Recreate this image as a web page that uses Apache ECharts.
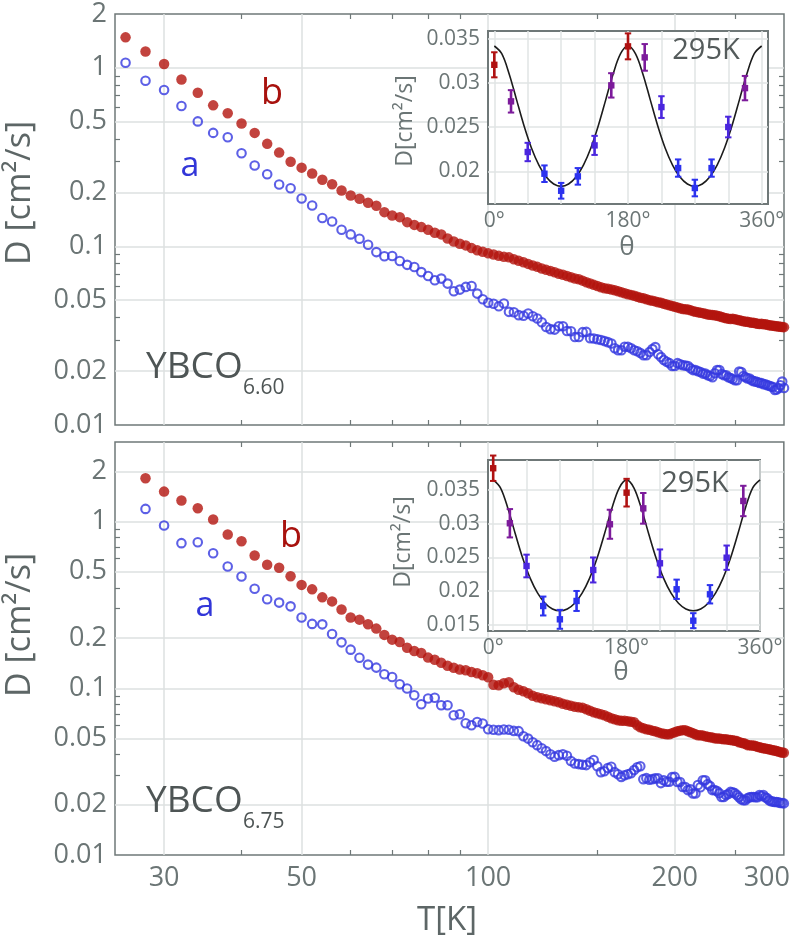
<!DOCTYPE html>
<html><head><meta charset="utf-8">
<script src="https://cdn.jsdelivr.net/npm/echarts@6/dist/echarts.min.js"></script>
<style>html,body{margin:0;padding:0;background:#fff}#c{width:793px;height:946px}</style>
</head><body><div id="c"></div>
<script>
// ---------- DATA ----------
const T_TOP = [26,28,30,32,34,36,38,40,42,44,46,48,50,52,54,56,58,60,62,64,66,68,70,72,74,76,78,80,82,84,86,88,90,92,94,96,98,
  100,102,104,106,108,110,112,114,116,118,120,122,124,126,128,130,132,134,136,138,140,142,144,146,148,150,152,154,156,158,
  160,162,164,166,168,170,172,174,176,178,180,182,184,186,188,190,192,194,196,198,200,202,204,206,208,210,212,214,216,218,
  220,222,224,226,228,230,232,234,236,238,240,242,244,246,248,250,252,254,256,258,260,262,264,266,268,270,272,274,276,278,
  280,282,284,286,288,290,292,294,296,298,300];
const D_TOP_B = [1.48,1.233,1.049,0.860,0.725,0.616,0.556,0.488,0.432,0.375,0.335,0.298,0.276,0.256,0.236,0.223,0.2055,0.1927,0.1848,0.1757,
  0.1688,0.1555,0.1490,0.1458,0.1367,0.1319,0.1282,0.1240,0.1193,0.1167,0.1108,0.1066,0.1035,0.1013,0.0978,0.0950,0.0932,
  0.0914,0.0900,0.0885,0.0874,0.0868,0.0848,0.0830,0.0815,0.0798,0.0782,
  0.0768,0.0752,0.0739,0.0728,0.0716,0.0703,0.0693,0.0683,0.0671,0.0661,
  0.0654,0.0643,0.0630,0.0620,0.0609,0.0600,0.0590,0.0583,0.0579,0.0574,
  0.0568,0.0561,0.0553,0.0546,0.0539,0.0535,0.0529,0.0522,0.0516,0.0512,
  0.0506,0.0500,0.0496,0.0492,0.0487,0.0483,0.0477,0.0472,0.0468,0.0464,
  0.0459,0.0455,0.0450,0.0446,0.0445,0.0443,0.0439,0.0434,0.0431,0.0428,
  0.0425,0.0423,0.0420,0.0416,0.0414,0.0413,0.0412,0.0409,0.0406,0.0402,
  0.0399,0.0396,0.0394,0.0392,0.0394,0.0391,0.0389,0.0386,0.0384,0.0381,
  0.0379,0.0378,0.0376,0.0374,0.0374,0.0371,0.0369,0.0368,0.0369,0.0366,
  0.0367,0.0364,0.0362,0.0361,0.0360,0.0358,0.0357,0.0356,0.0355,0.0354,0.0353];
const D_TOP_A = [1.067,0.846,0.751,0.611,0.501,0.432,0.408,0.332,0.2835,0.2534,0.222,0.2117,0.1855,0.1695,0.1443,0.1379,0.1240,0.1167,0.1104,0.1022,
  0.0929,0.0880,0.0883,0.0828,0.0788,0.0766,0.0718,0.0683,0.0646,0.0660,0.0619,0.0561,0.0573,0.0593,0.0600,0.0544,0.0506,
  0.0484,0.0477,0.0462,0.0479,0.0430,0.0428,0.0412,0.0409,0.0421,0.0406,
  0.0395,0.0376,0.0354,0.0344,0.0342,0.0357,0.0357,0.0336,0.0335,0.0311,
  0.0311,0.0331,0.0332,0.0306,0.0305,0.0302,0.0299,0.0295,0.0291,0.0286,
  0.0269,0.0262,0.0262,0.0274,0.0274,0.0269,0.0262,0.0259,0.0253,0.0246,
  0.0246,0.0256,0.0266,0.0273,0.0249,0.0240,0.0231,0.0226,0.0222,0.0214,
  0.0214,0.0222,0.0219,0.0216,0.0215,0.0214,0.0208,0.0203,0.0203,0.0200,
  0.0198,0.0194,0.0194,0.0190,0.0188,0.0185,0.0195,0.0203,0.0203,0.0193,
  0.0190,0.0190,0.0185,0.0183,0.0181,0.0178,0.0178,0.0199,0.0198,0.0188,
  0.0185,0.0182,0.0182,0.0178,0.0176,0.0175,0.0174,0.0172,0.0172,0.0169,
  0.0169,0.0167,0.0166,0.0164,0.0163,0.0157,0.0158,0.0161,0.0167,0.0175,0.0161];

const T_BOT = [28,30,32,34,36,38,40,42,44,46,48,50,52,54,56,58,60,62,64,66,68,70,72,74,76,78,80,82,84,86,88,90,92,94,96,98,
  100,102,104,106,108,110,112,114,116,118,120,122,124,126,128,130,132,134,136,138,140,142,144,146,148,150,152,154,156,158,
  160,162,164,166,168,170,172,174,176,178,180,182,184,186,188,190,192,194,196,198,200,202,204,206,208,210,212,214,216,218,
  220,222,224,226,228,230,232,234,236,238,240,242,244,246,248,250,252,254,256,258,260,262,264,266,268,270,272,274,276,278,
  280,282,284,286,288,290,292,294,296,298,300];
const D_BOT_B = [1.817,1.512,1.336,1.201,1.028,0.836,0.762,0.626,0.551,0.528,0.470,0.417,0.392,0.351,0.332,0.297,0.266,0.258,0.242,0.228,
  0.209,0.1957,0.1894,0.1752,0.1673,0.1627,0.1527,0.1482,0.1422,0.1364,0.1327,0.1294,0.1282,0.1252,0.1230,0.1196,
  0.1164,0.1050,0.1042,0.1071,0.1086,0.1014,0.0980,0.0960,0.0934,0.0902,
  0.0884,0.0871,0.0859,0.0847,0.0836,0.0825,0.0808,0.0797,0.0786,0.0775,
  0.0769,0.0764,0.0749,0.0733,0.0718,0.0708,0.0699,0.0689,0.0675,0.0661,
  0.0652,0.0643,0.0639,0.0639,0.0635,0.0630,0.0626,0.0600,0.0584,0.0576,
  0.0568,0.0564,0.0557,0.0553,0.0545,0.0538,0.0534,0.0530,0.0530,0.0538,
  0.0545,0.0553,0.0557,0.0561,0.0561,0.0553,0.0545,0.0538,0.0530,0.0523,
  0.0523,0.0520,0.0516,0.0512,0.0509,0.0506,0.0502,0.0500,0.0499,0.0497,
  0.0495,0.0494,0.0492,0.0490,0.0488,0.0485,0.0482,0.0475,0.0472,0.0468,
  0.0465,0.0456,0.0456,0.0454,0.0453,0.0450,0.0446,0.0443,0.0440,0.0437,
  0.0435,0.0433,0.0431,0.0428,0.0425,0.0423,0.0420,0.0417,0.0414,0.0412,0.0410];
const D_BOT_A = [1.191,0.946,0.742,0.752,0.646,0.538,0.468,0.395,0.342,0.3265,0.310,0.266,0.2433,0.2417,0.2114,0.1886,0.1705,0.1523,0.1387,0.1330,
  0.1213,0.1169,0.1057,0.0996,0.0908,0.0802,0.0868,0.0877,0.0791,0.0791,0.0689,0.0699,0.0617,0.0600,0.0628,0.0615,
  0.0568,0.0564,0.0561,0.0566,0.0564,0.0555,0.0553,0.0516,0.0499,0.0475,
  0.0456,0.0437,0.0420,0.0402,0.0389,0.0397,0.0402,0.0394,0.0366,0.0354,
  0.0351,0.0348,0.0346,0.0360,0.0371,0.0341,0.0314,0.0318,0.0332,0.0338,
  0.0314,0.0305,0.0294,0.0301,0.0305,0.0309,0.0323,0.0336,0.0341,0.0285,
  0.0289,0.0283,0.0285,0.0288,0.0288,0.0270,0.0281,0.0275,0.0275,0.0293,
  0.0294,0.0274,0.0274,0.0256,0.0256,0.0245,0.0248,0.0234,0.0234,0.0263,
  0.0255,0.0281,0.0281,0.0266,0.0259,0.0245,0.0245,0.0242,0.0235,0.0223,
  0.0223,0.0229,0.0232,0.0239,0.0238,0.0235,0.0229,0.0222,0.0216,0.0213,
  0.0213,0.0219,0.0222,0.0223,0.0223,0.0222,0.0222,0.0229,0.0226,0.0229,
  0.0222,0.0219,0.0213,0.0210,0.0209,0.0208,0.0208,0.0207,0.0205,0.0205,0.0204];

// inset data (295 K, angle scans)
const THETA = [0,22.5,45,67.5,90,112.5,135,157.5,180,202.5,225,247.5,270,292.5,315,337.5];
const INS_TOP_D = [0.03207,0.02793,0.02219,0.01973,0.0178,0.01943,0.02294,0.02974,0.03416,0.03291,0.02728,0.02037,0.01811,0.02037,0.02502,0.02943];
const INS_TOP_ERR = [0.00142,0.00127,0.00104,0.00094,0.00089,0.00094,0.00108,0.00138,0.00147,0.00151,0.00123,0.00098,0.00094,0.00098,0.00117,0.00138];
const INS_BOT_D = [0.03822,0.03007,0.02374,0.01781,0.01584,0.01856,0.02315,0.02992,0.0346,0.03228,0.02414,0.02029,0.01564,0.01955,0.02497,0.03337];
const INS_BOT_ERR = [0.00188,0.0021,0.00168,0.0014,0.0014,0.00148,0.00185,0.00215,0.00205,0.00227,0.00205,0.00143,0.00111,0.00136,0.0018,0.00225];
const THETA_FIT = [0,10,20,30,40,50,60,70,80,90,100,110,120,130,140,150,160,170,180,190,200,210,220,230,240,250,260,270,280,290,300,310,320,330,340,350,360];
const FIT_TOP = [0.0342,0.03333,0.03104,0.02810,0.02517,0.02265,0.02071,0.01935,0.01856,0.0183,0.01856,0.01935,0.02071,0.02265,0.02517,0.02810,0.03104,0.03333,0.0342,
  0.03333,0.03104,0.02810,0.02517,0.02265,0.02071,0.01935,0.01856,0.0183,0.01856,0.01935,0.02071,0.02265,0.02517,0.02810,0.03104,0.03333,0.0342];
const FIT_BOT = [0.0365,0.03529,0.03222,0.02844,0.02485,0.02191,0.01972,0.01823,0.01738,0.0171,0.01738,0.01823,0.01972,0.02191,0.02485,0.02844,0.03222,0.03529,0.0365,
  0.03529,0.03222,0.02844,0.02485,0.02191,0.01972,0.01823,0.01738,0.0171,0.01738,0.01823,0.01972,0.02191,0.02485,0.02844,0.03222,0.03529,0.0365];

// tick values
const X_GRID = [30,50,100,200];
const X_LABELS = [30,50,100,200,300];
const X_MINOR = [40,60,70,80,90,150,250];
const Y_LABELS_TOP = [0.01,0.02,0.05,0.1,0.2,0.5,1,2];
const Y_GRID_TOP = [0.02,0.05,0.1,0.2,0.5,1];
const Y_LABELS_BOT = [0.01,0.02,0.05,0.1,0.2,0.5,1,2];
const Y_GRID_BOT = [0.02,0.05,0.1,0.2,0.5,1,2];
const Y_MINOR = [0.03,0.04,0.06,0.07,0.08,0.09,0.3,0.4,0.6,0.7,0.8,0.9];
const TH_GRID = [0,45,90,135,180,225,270,315,360];
const TH_LABELS = [0,180,360];
const INS_Y_TOP = [0.02,0.025,0.03,0.035];
const INS_Y_BOT = [0.015,0.02,0.025,0.03,0.035];

// ---------- STYLE ----------
const FONT = "'Open Sans', 'Noto Sans', sans-serif";
const LABEL_COLOR = '#6b7575';
const GRID_LINE = '#dde1e1';
const FRAME = '#6f7878';
const RED = '#b3140e';
const BLUE = '#3438e0';

const chart = echarts.init(document.getElementById('c'), null, {renderer: 'canvas'});
const grids = [], xAxes = [], yAxes = [], series = [];

function fmt(v) { return String(parseFloat(Number(v).toPrecision(3))); }

function addMain(box, yMax, yGrid, yLabels, showX) {
  const gi = grids.length;
  grids.push(Object.assign({show: true, borderColor: FRAME, borderWidth: 1.5, backgroundColor: 'transparent', z: 0}, box));
  const xi = xAxes.length, yi = yAxes.length;
  xAxes.push({type: 'log', logBase: 10, gridIndex: gi, min: 25, max: 300, position: 'bottom', z: 1,
    axisLine: {show: false}, axisTick: {show: false, customValues: X_GRID},
    splitLine: {show: true, lineStyle: {color: GRID_LINE, width: 1.5}},
    axisLabel: {show: showX, customValues: X_LABELS, fontSize: 27, fontFamily: FONT, color: LABEL_COLOR, margin: 10,
      formatter: v => (v > 290 ? '{r|300}' : fmt(v)),
      rich: {r: {fontSize: 27, fontFamily: FONT, color: LABEL_COLOR, padding: [0, 34, 0, 0]}}}});
  ['bottom', 'top'].forEach(pos => xAxes.push({type: 'log', logBase: 10, gridIndex: gi, min: 25, max: 300, position: pos, z: 1,
    axisLine: {show: false}, splitLine: {show: false}, axisLabel: {show: false},
    axisTick: {show: true, inside: true, length: 5, customValues: X_MINOR, lineStyle: {color: FRAME, width: 1.2}}}));
  yAxes.push({type: 'log', logBase: 10, gridIndex: gi, min: 0.01, max: yMax, position: 'left', z: 1,
    axisLine: {show: false}, axisTick: {show: false, customValues: yGrid},
    splitLine: {show: true, lineStyle: {color: GRID_LINE, width: 1.5}},
    axisLabel: {customValues: yLabels, fontSize: 27, fontFamily: FONT, color: LABEL_COLOR, margin: 8, formatter: v => fmt(v)}});
  ['left', 'right'].forEach(pos => yAxes.push({type: 'log', logBase: 10, gridIndex: gi, min: 0.01, max: yMax, position: pos, z: 1,
    axisLine: {show: false}, splitLine: {show: false}, axisLabel: {show: false},
    axisTick: {show: true, inside: true, length: 5, customValues: Y_MINOR, lineStyle: {color: FRAME, width: 1.2}}}));
  return {xi, yi};
}

function addInset(box, xMin, xMax, yMin, yMax, yVals) {
  const gi = grids.length;
  grids.push(Object.assign({show: true, borderColor: FRAME, borderWidth: 2, backgroundColor: '#ffffff', z: 3}, box));
  const xi = xAxes.length, yi = yAxes.length;
  xAxes.push({type: 'value', gridIndex: gi, min: xMin, max: xMax, z: 4,
    axisLine: {show: false}, axisTick: {show: false, customValues: TH_GRID},
    splitLine: {show: true, lineStyle: {color: '#e0e4e4', width: 1.5}},
    axisLabel: {customValues: TH_LABELS, fontSize: 21, fontFamily: FONT, color: LABEL_COLOR, margin: 7, formatter: v => Math.round(v) + '°'}});
  yAxes.push({type: 'value', gridIndex: gi, min: yMin, max: yMax, z: 4,
    axisLine: {show: false}, axisTick: {show: false, customValues: yVals},
    splitLine: {show: true, lineStyle: {color: '#e0e4e4', width: 1.5}},
    axisLabel: {customValues: yVals, fontSize: 21, fontFamily: FONT, color: LABEL_COLOR, margin: 8, formatter: v => fmt(v)}});
  return {xi, yi};
}

const mTop = addMain({left: 115, top: 14, width: 669, height: 411}, 2, Y_GRID_TOP, Y_LABELS_TOP, false);
const mBot = addMain({left: 115, top: 442, width: 669, height: 413}, 3, Y_GRID_BOT, Y_LABELS_BOT, true);
const iTop = addInset({left: 488, top: 31, width: 280, height: 173}, -8.5, 368.5, 0.0163, 0.0359, INS_Y_TOP);
const iBot = addInset({left: 488, top: 460, width: 272, height: 171}, -7, 360, 0.01411, 0.03944, INS_Y_BOT);

function pairs(xs, ys) { return xs.map((x, i) => [x, ys[i]]); }

function addScatter(ax, xs, ys, filled) {
  series.push({type: 'scatter', xAxisIndex: ax.xi, yAxisIndex: ax.yi, z: 2, symbol: 'circle',
    symbolSize: filled ? 10.5 : 8.5, data: pairs(xs, ys), silent: true,
    itemStyle: filled ? {color: RED} : {color: 'rgba(255,255,255,0)', borderColor: BLUE, borderWidth: 2.1}});
}
addScatter(mTop, T_TOP, D_TOP_B, true);
addScatter(mTop, T_TOP, D_TOP_A, false);
addScatter(mBot, T_BOT, D_BOT_B, true);
addScatter(mBot, T_BOT, D_BOT_A, false);

function angColor(a) {
  const c = Math.cos(a * Math.PI / 180), c2 = c * c;
  if (c2 > 0.95) return '#b01212';
  if (c2 > 0.7) return '#7c1b9b';
  if (c2 > 0.3) return '#4a26de';
  return '#2c32ee';
}
function renderErr(params, api) {
  const x = api.value(0), y = api.value(1), e = api.value(2);
  const lo = api.coord([x, y - e]), hi = api.coord([x, y + e]), m = api.coord([x, y]);
  const col = angColor(x), cw = 3.2;
  return {type: 'group', children: [
    {type: 'line', shape: {x1: lo[0], y1: lo[1], x2: hi[0], y2: hi[1]}, style: {stroke: col, lineWidth: 2.6}},
    {type: 'line', shape: {x1: lo[0] - cw, y1: lo[1], x2: lo[0] + cw, y2: lo[1]}, style: {stroke: col, lineWidth: 2}},
    {type: 'line', shape: {x1: hi[0] - cw, y1: hi[1], x2: hi[0] + cw, y2: hi[1]}, style: {stroke: col, lineWidth: 2}},
    {type: 'rect', shape: {x: m[0] - 3.2, y: m[1] - 3.2, width: 6.4, height: 6.4}, style: {fill: col}}
  ]};
}
function addInsetSeries(ax, dv, ev, fit) {
  series.push({type: 'line', xAxisIndex: ax.xi, yAxisIndex: ax.yi, z: 5, data: pairs(THETA_FIT, fit),
    smooth: 0.35, showSymbol: false, symbol: 'none', silent: true, lineStyle: {color: '#1c1c1c', width: 1.6}});
  series.push({type: 'custom', xAxisIndex: ax.xi, yAxisIndex: ax.yi, z: 6, silent: true,
    data: THETA.map((t, i) => [t, dv[i], ev[i]]), renderItem: renderErr, encode: {x: 0, y: 1}});
}
addInsetSeries(iTop, INS_TOP_D, INS_TOP_ERR, FIT_TOP);
addInsetSeries(iBot, INS_BOT_D, INS_BOT_ERR, FIT_BOT);

function txt(x, y, text, size, color, extra) {
  return Object.assign({type: 'text', x: x, y: y, z: 100, silent: true,
    style: {text: text, fill: color, font: size + 'px ' + FONT, align: 'center', verticalAlign: 'middle',
      textAlign: 'center', textVerticalAlign: 'middle'}}, extra || {});
}
function txtL(x, y, text, size, color) {
  const t = txt(x, y, text, size, color);
  t.style.align = 'left'; t.style.textAlign = 'left';
  return t;
}
const graphics = [
  txt(20, 193, 'D [cm²/s]', 34, '#5d6666', {rotation: Math.PI / 2}),
  txt(20, 625, 'D [cm²/s]', 34, '#5d6666', {rotation: Math.PI / 2}),
  txt(272, 94, 'b', 36, '#a8120e'),
  txt(190, 166, 'a', 34, '#3236d8'),
  txt(291, 537, 'b', 36, '#a8120e'),
  txt(205, 606, 'a', 34, '#3236d8'),
  txtL(146, 367, 'YBCO', 37, '#4e5555'),
  txtL(243, 388, '6.60', 21, '#4e5555'),
  txtL(146, 801, 'YBCO', 37, '#4e5555'),
  txtL(243, 822, '6.75', 21, '#4e5555'),
  txt(706, 51, '295K', 29, '#545b5b'),
  txt(695, 484, '295K', 29, '#545b5b'),
  txt(405, 121, 'D[cm²/s]', 23, LABEL_COLOR, {rotation: Math.PI / 2}),
  txt(403, 542, 'D[cm²/s]', 23, LABEL_COLOR, {rotation: Math.PI / 2}),
  txt(627, 248, 'θ', 26, LABEL_COLOR),
  txt(621, 673, 'θ', 26, LABEL_COLOR),
  txt(447, 921, 'T[K]', 33, '#5d6666')
];

chart.setOption({
  backgroundColor: '#ffffff',
  animation: false,
  grid: grids, xAxis: xAxes, yAxis: yAxes, series: series,
  graphic: {elements: graphics}
});
</script></body></html>
